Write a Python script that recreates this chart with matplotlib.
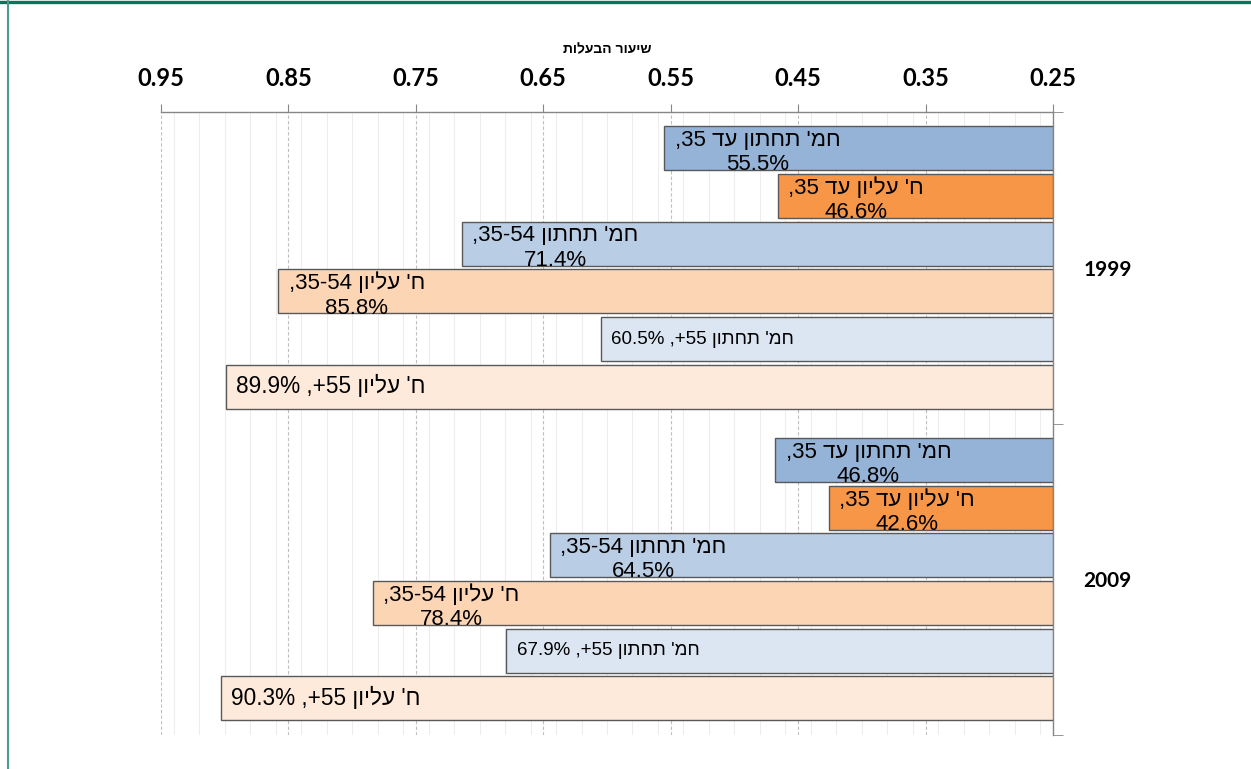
import re
import numpy as np
import matplotlib
matplotlib.use('Agg')
import matplotlib.pyplot as plt
from matplotlib.lines import Line2D
from matplotlib.ticker import MultipleLocator, FixedLocator

plt.rcParams['font.family'] = ['Liberation Sans', 'DejaVu Sans']

#%% Data
years = ['1999', '2009']
series = ["חמ' תחתון עד 35", "ח' עליון עד 35",
          "חמ' תחתון 35-54", "ח' עליון 35-54",
          "חמ' תחתון 55+", "ח' עליון 55+"]
own_1999 = [0.555, 0.466, 0.714, 0.858, 0.605, 0.899]
own_2009 = [0.468, 0.426, 0.645, 0.784, 0.679, 0.903]
colors = ['#95B3D7', '#F79646', '#B9CDE5', '#FCD5B5', '#DCE6F2', '#FDEADA']
xlabel = 'שיעור הבעלות'
base = 0.25


def visual(s):
    # matplotlib has no bidi support: flip each line, keep numbers left-to-right
    lines = []
    for line in s.split('\n'):
        r = line[::-1]
        r = re.sub(r'[0-9.%\-]+', lambda m: m.group(0)[::-1], r)
        lines.append(r)
    return '\n'.join(lines)


#%% Figure
fig = plt.figure(figsize=(12.51, 7.69), dpi=100)
ax = fig.add_axes([161/1251, 1 - 735/769, (1053 - 161)/1251, (735 - 112)/769])

slot, pad, bh = 0.153, 0.0405, 0.141
for g, vals in enumerate([own_1999, own_2009]):
    for i, (name, v) in enumerate(zip(series, vals)):
        y = g + pad + (i + 0.5) * slot
        ax.barh(y, v - base, left=base, height=bh, color=colors[i],
                edgecolor='#595959', linewidth=1, zorder=3)
        pct = f'{v*100:.1f}%'
        if i < 4:
            txt, fs, dy = f'{name},\n{pct}', 16, -3
        elif i == 4:
            txt, fs, dy = f'{name}, {pct}', 13.5, 0
        else:
            txt, fs, dy = f'{name}, {pct}', 16.3, 0
        ax.annotate(visual(txt), xy=(v, y), xytext=(7.5, dy),
                    textcoords='offset points', ha='left', va='center',
                    multialignment='center', fontsize=fs, color='black',
                    linespacing=1.2, zorder=4)

ax.set_xlim(0.95, base)
ax.set_ylim(2, 0)

# x axis on top
ax.xaxis.tick_top()
ax.xaxis.set_label_position('top')
ax.xaxis.set_minor_locator(MultipleLocator(0.02))
xt = np.arange(0.95, 0.24, -0.1)
ax.set_xticks(xt)
ax.set_xticklabels([f'{t:.2f}' for t in xt],
                   fontsize=17, fontweight='bold', family='Lato')
ax.tick_params(axis='x', which='major', length=6, pad=10, color='#868686')
ax.tick_params(axis='x', which='minor', length=0)
ax.set_xlabel(visual(xlabel), fontsize=10, fontweight='bold', labelpad=10)

ax.grid(axis='x', which='major', linestyle=(0, (3, 2)), color='#BFBFBF', lw=0.8)
ax.grid(axis='x', which='minor', linestyle='-', color='#EDEDED', lw=0.8)
ax.set_axisbelow(True)

# y axis on the right: group labels between boundary ticks
ax.yaxis.tick_right()
ax.yaxis.set_major_locator(FixedLocator([0.5, 1.5]))
ax.yaxis.set_minor_locator(FixedLocator([0, 1, 2]))
ax.set_yticklabels(years, fontsize=15, fontweight='bold', family='Lato')
ax.tick_params(axis='y', which='major', length=0, pad=22)
ax.tick_params(axis='y', which='minor', length=7, color='#868686')

for s in ['left', 'bottom']:
    ax.spines[s].set_visible(False)
for s in ['top', 'right']:
    ax.spines[s].set_color('#868686')
    ax.spines[s].set_linewidth(1)

# frame lines
fig.add_artist(Line2D([0, 1], [1 - 1.5/769] * 2, transform=fig.transFigure,
                      color='#00785A', lw=2.4))
fig.add_artist(Line2D([8/1251] * 2, [0, 1], transform=fig.transFigure,
                      color='#48A08A', lw=1.5))

fig.savefig('out.png', dpi=100, facecolor='w')
